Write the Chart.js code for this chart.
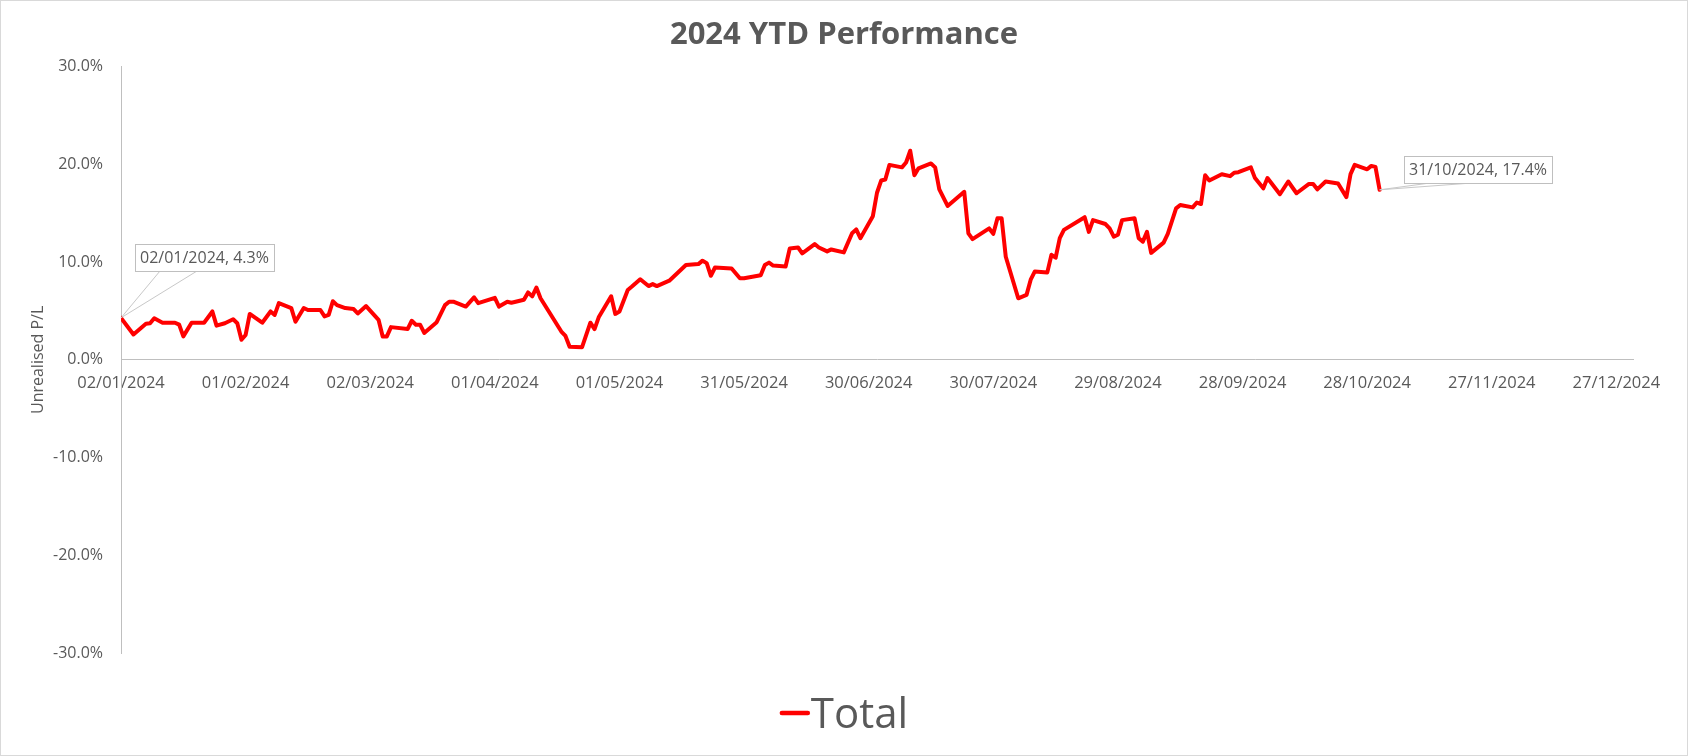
<!DOCTYPE html>
<html>
<head>
<meta charset="utf-8">
<title>2024 YTD Performance</title>
<script src="https://cdn.jsdelivr.net/npm/chart.js@4.4.1/dist/chart.umd.min.js"></script>
<style>
  html, body { margin: 0; padding: 0; background: #fff; }
  #wrap { width: 1688px; height: 756px; position: relative; }
</style>
</head>
<body>
<div id="wrap"><canvas id="graph-area"></canvas></div>
<script>
const chartTitle = '2024 YTD Performance';
const axisTitle = 'Unrealised P/L';
const seriesName = 'Total';

const axisStart = '02/01/2024';
const axisEnd = '31/12/2024';
const tickLabels = ['02/01/2024', '01/02/2024', '02/03/2024', '01/04/2024', '01/05/2024', '31/05/2024',
  '30/06/2024', '30/07/2024', '29/08/2024', '28/09/2024', '28/10/2024', '27/11/2024', '27/12/2024'];

const dates = [
  '02/01/2024', '05/01/2024', '08/01/2024', '09/01/2024', '10/01/2024', '12/01/2024', '15/01/2024', '16/01/2024',
  '17/01/2024', '19/01/2024', '22/01/2024', '24/01/2024', '25/01/2024', '27/01/2024', '29/01/2024', '30/01/2024',
  '31/01/2024', '01/02/2024', '02/02/2024', '05/02/2024', '07/02/2024', '08/02/2024', '09/02/2024', '12/02/2024',
  '13/02/2024', '15/02/2024', '16/02/2024', '19/02/2024', '20/02/2024', '21/02/2024', '22/02/2024', '23/02/2024',
  '25/02/2024', '27/02/2024', '28/02/2024', '01/03/2024', '04/03/2024', '05/03/2024', '06/03/2024', '07/03/2024',
  '11/03/2024', '12/03/2024', '13/03/2024', '14/03/2024', '15/03/2024', '18/03/2024', '20/03/2024', '21/03/2024',
  '22/03/2024', '25/03/2024', '27/03/2024', '28/03/2024', '01/04/2024', '02/04/2024', '04/04/2024', '05/04/2024',
  '08/04/2024', '09/04/2024', '10/04/2024', '11/04/2024', '12/04/2024', '17/04/2024', '18/04/2024', '19/04/2024',
  '22/04/2024', '24/04/2024', '25/04/2024', '26/04/2024', '29/04/2024', '30/04/2024', '01/05/2024', '03/05/2024',
  '04/05/2024', '06/05/2024', '08/05/2024', '09/05/2024', '10/05/2024', '13/05/2024', '17/05/2024', '20/05/2024',
  '21/05/2024', '22/05/2024', '23/05/2024', '24/05/2024', '28/05/2024', '30/05/2024', '31/05/2024', '04/06/2024',
  '05/06/2024', '06/06/2024', '07/06/2024', '10/06/2024', '11/06/2024', '13/06/2024', '14/06/2024', '17/06/2024',
  '18/06/2024', '20/06/2024', '21/06/2024', '24/06/2024', '26/06/2024', '27/06/2024', '28/06/2024', '01/07/2024',
  '02/07/2024', '03/07/2024', '04/07/2024', '05/07/2024', '08/07/2024', '09/07/2024', '10/07/2024', '11/07/2024',
  '12/07/2024', '15/07/2024', '16/07/2024', '17/07/2024', '19/07/2024', '23/07/2024', '24/07/2024', '25/07/2024',
  '29/07/2024', '30/07/2024', '31/07/2024', '01/08/2024', '02/08/2024', '05/08/2024', '07/08/2024', '08/08/2024',
  '09/08/2024', '12/08/2024', '13/08/2024', '14/08/2024', '15/08/2024', '16/08/2024', '21/08/2024', '22/08/2024',
  '23/08/2024', '26/08/2024', '27/08/2024', '28/08/2024', '29/08/2024', '30/08/2024', '02/09/2024', '03/09/2024',
  '04/09/2024', '05/09/2024', '06/09/2024', '09/09/2024', '10/09/2024', '12/09/2024', '13/09/2024', '16/09/2024',
  '17/09/2024', '18/09/2024', '19/09/2024', '20/09/2024', '23/09/2024', '25/09/2024', '26/09/2024', '27/09/2024',
  '30/09/2024', '01/10/2024', '03/10/2024', '04/10/2024', '07/10/2024', '09/10/2024', '11/10/2024', '14/10/2024',
  '15/10/2024', '16/10/2024', '18/10/2024', '21/10/2024', '23/10/2024', '24/10/2024', '25/10/2024', '28/10/2024',
  '29/10/2024', '30/10/2024', '31/10/2024'
];

const totals = [
  4.3, 2.6, 3.7, 3.75, 4.25, 3.8, 3.8, 3.6,
  2.4, 3.8, 3.8, 4.95, 3.5, 3.75, 4.15, 3.75,
  2.05, 2.55, 4.7, 3.8, 4.95, 4.6, 5.8, 5.3,
  3.9, 5.3, 5.1, 5.1, 4.45, 4.6, 6.0, 5.6,
  5.3, 5.2, 4.75, 5.5, 4.1, 2.4, 2.4, 3.35,
  3.15, 4.0, 3.6, 3.6, 2.75, 3.85, 5.6, 5.95,
  5.95, 5.45, 6.4, 5.8, 6.35, 5.45, 5.95, 5.85,
  6.15, 6.9, 6.5, 7.4, 6.3, 2.9, 2.45, 1.35,
  1.3, 3.8, 3.15, 4.35, 6.5, 4.7, 4.95, 7.15,
  7.5, 8.25, 7.55, 7.75, 7.55, 8.1, 9.7, 9.8,
  10.15, 9.9, 8.6, 9.45, 9.35, 8.35, 8.35, 8.65,
  9.7, 9.95, 9.65, 9.55, 11.4, 11.5, 10.9, 11.85,
  11.5, 11.1, 11.3, 11.0, 12.95, 13.35, 12.45, 14.7,
  17.1, 18.35, 18.45, 19.95, 19.7, 20.2, 21.4, 18.9,
  19.6, 20.1, 19.7, 17.45, 15.75, 17.2, 12.95, 12.35,
  13.45, 12.9, 14.5, 14.5, 10.55, 6.3, 6.65, 8.2,
  9.05, 8.95, 10.75, 10.45, 12.45, 13.3, 14.6, 13.1,
  14.3, 13.9, 13.45, 12.6, 12.8, 14.3, 14.5, 12.45,
  12.1, 13.1, 10.95, 12.0, 12.9, 15.5, 15.85, 15.6,
  16.1, 15.95, 18.9, 18.35, 19.0, 18.8, 19.15, 19.2,
  19.7, 18.6, 17.55, 18.6, 16.95, 18.25, 17.05, 18.0,
  18.0, 17.45, 18.25, 18.05, 16.65, 19.0, 19.95, 19.5,
  19.85, 19.75, 17.4
];

// days since the first axis date
function toDay(s) {
  const [d, m, y] = s.split('/').map(Number);
  const [d0, m0, y0] = axisStart.split('/').map(Number);
  return Math.round((Date.UTC(y, m - 1, d) - Date.UTC(y0, m0 - 1, d0)) / 86400000);
}

const tickDays = tickLabels.map(toDay);
const points = dates.map((d, i) => ({x: toDay(d), y: totals[i]}));

const textGrey = '#595959';
const fontFamily = "'Open Sans', 'Liberation Sans', sans-serif";

const background = {
  id: 'background',
  beforeDraw(chart) {
    const {ctx, width, height} = chart;
    ctx.save();
    ctx.fillStyle = '#ffffff';
    ctx.fillRect(0, 0, width, height);
    ctx.restore();
  },
  afterDraw(chart) {
    const {ctx, width, height} = chart;
    ctx.save();
    ctx.strokeStyle = '#d9d9d9';
    ctx.lineWidth = 1;
    ctx.strokeRect(0.5, 0.5, width - 1, height - 1);
    ctx.restore();
  }
};

// excel style data callouts on first and last point
const callouts = {
  id: 'callouts',
  afterDatasetsDraw(chart, args, opts) {
    const meta = chart.getDatasetMeta(0);
    const ctx = chart.ctx;
    opts.items.forEach(item => {
      const idx = item.index < 0 ? meta.data.length + item.index : item.index;
      const pt = meta.data[idx];
      const text = dates[idx] + ', ' + totals[idx].toFixed(1) + '%';
      ctx.save();
      ctx.font = opts.font;
      const w = Math.round(ctx.measureText(text).width + 2 * opts.padX);
      const h = opts.height;
      const bx = Math.round(pt.x + item.dx);
      const by = Math.round(pt.y + item.dy);
      ctx.strokeStyle = opts.lineColor;
      ctx.lineWidth = 1;
      ctx.beginPath();
      item.legs.forEach(l => {
        ctx.moveTo(pt.x, pt.y);
        ctx.lineTo(bx + l, by + h);
      });
      ctx.stroke();
      ctx.fillStyle = '#ffffff';
      ctx.fillRect(bx, by, w, h);
      ctx.strokeStyle = opts.borderColor;
      ctx.strokeRect(bx + 0.5, by + 0.5, w, h);
      ctx.fillStyle = opts.color;
      ctx.textBaseline = 'middle';
      ctx.fillText(text, bx + opts.padX, by + h / 2 + 1);
      ctx.restore();
    });
  }
};

// legend drawn as a short line next to a big label
const lineLegend = {
  id: 'lineLegend',
  afterDraw(chart, args, opts) {
    const ds = chart.data.datasets[0];
    const ctx = chart.ctx;
    ctx.save();
    ctx.font = opts.font;
    const tw = ctx.measureText(ds.label).width;
    const total = opts.swatch + opts.gap + tw;
    const x = (chart.width - total) / 2;
    const lineY = chart.height - opts.lineOffset;
    ctx.strokeStyle = ds.borderColor;
    ctx.lineWidth = opts.lineWidth;
    ctx.lineCap = 'round';
    ctx.beginPath();
    ctx.moveTo(x + 2, lineY);
    ctx.lineTo(x + opts.swatch - 2, lineY);
    ctx.stroke();
    ctx.fillStyle = opts.color;
    ctx.textBaseline = 'alphabetic';
    ctx.fillText(ds.label, x + opts.swatch + opts.gap, chart.height - opts.baselineOffset);
    ctx.restore();
  }
};

const context = document.querySelector('#graph-area').getContext('2d');

new Chart(context, {
  type: 'line',
  data: {
    datasets: [{
      label: seriesName,
      data: points,
      borderColor: '#ff0000',
      backgroundColor: '#ff0000',
      borderWidth: 4,
      pointRadius: 0,
      tension: 0,
      borderJoinStyle: 'round',
      borderCapStyle: 'round'
    }]
  },
  options: {
    responsive: true,
    maintainAspectRatio: false,
    animation: false,
    layout: {padding: {left: 0, right: 0, top: 0, bottom: 103}},
    scales: {
      x: {
        type: 'linear',
        min: 0,
        max: toDay(axisEnd),
        position: {y: 0},
        grid: {display: false, drawTicks: false},
        border: {color: '#bfbfbf', width: 1},
        afterBuildTicks: scale => {
          scale.ticks = tickDays.map(v => ({value: v}));
        },
        ticks: {
          autoSkip: false,
          maxRotation: 0,
          padding: 14,
          color: textGrey,
          font: {family: fontFamily, size: 16.5},
          callback: v => {
            const i = tickDays.indexOf(v);
            return i >= 0 ? tickLabels[i] : '';
          }
        }
      },
      y: {
        min: -30,
        max: 30,
        grid: {display: false, drawTicks: false},
        border: {color: '#bfbfbf', width: 1},
        afterFit: scale => {
          scale.width = 121;
        },
        ticks: {
          stepSize: 10,
          padding: 18,
          color: textGrey,
          font: {family: fontFamily, size: 16},
          callback: v => v.toFixed(1) + '%'
        },
        title: {
          display: true,
          text: axisTitle,
          color: textGrey,
          font: {family: fontFamily, size: 16},
          padding: {top: 29, bottom: 0}
        }
      },
      // empty strip on the right so the title stays centred on the whole chart
      spacer: {
        type: 'linear',
        position: 'right',
        grid: {display: false, drawTicks: false},
        border: {display: false},
        ticks: {display: false},
        afterFit: scale => {
          scale.width = 55;
        }
      }
    },
    plugins: {
      legend: {display: false},
      tooltip: {enabled: false},
      title: {
        display: true,
        text: chartTitle,
        color: textGrey,
        font: {family: fontFamily, size: 31, weight: 'bold'},
        padding: {top: 17, bottom: 12.5}
      },
      callouts: {
        font: '16px ' + fontFamily,
        color: textGrey,
        borderColor: '#bfbfbf',
        lineColor: '#c8c8c8',
        padX: 5,
        height: 27,
        items: [
          {index: 0, dx: 14, dy: -74, legs: [25, 62]},
          {index: -1, dx: 24, dy: -34, legs: [26, 68]}
        ]
      },
      lineLegend: {
        font: '42px ' + fontFamily,
        color: textGrey,
        swatch: 30,
        gap: 1,
        lineWidth: 4.5,
        lineOffset: 43,
        baselineOffset: 28
      }
    }
  },
  plugins: [background, callouts, lineLegend]
});
</script>
</body>
</html>
